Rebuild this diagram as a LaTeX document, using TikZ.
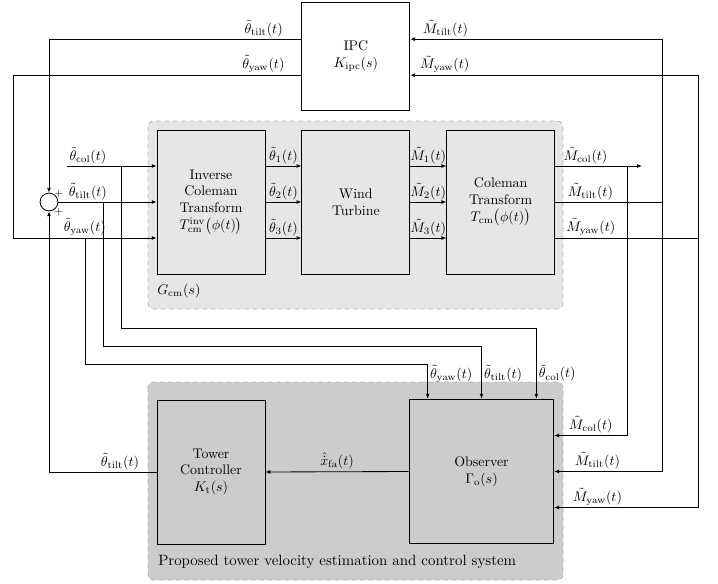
\documentclass[tikz,border=0pt]{standalone}
\usepackage{amsmath,amssymb}
\usepackage{xcolor}
\definecolor{Panel}{HTML}{E6E6E6}
\definecolor{PanelDark}{HTML}{CCCCCC}
\definecolor{Edge}{HTML}{B3B3B3}
\usepackage{tikz}
\usetikzlibrary{arrows.meta,positioning,calc}
\tikzset{
  block/.style={draw,line width=0.6pt,minimum width=2.72cm,minimum height=3.63cm,
    align=center,inner sep=1mm},
  group/.style={draw=Edge,dashed,rounded corners=1.5mm,line width=0.6pt},
  sumj/.style={circle,draw,line width=0.6pt,minimum size=4.5mm,inner sep=0pt},
  flow/.style={-{Latex[length=3.5pt,width=2.8pt]},line width=0.6pt},
  wire/.style={line width=0.6pt},
  sig/.style={inner sep=1.5pt},
  sgn/.style={inner sep=0pt,font=\scriptsize}
}

\begin{document}
\begin{tikzpicture}[x=0.0252cm,y=-0.0252cm,node distance=9.1mm]
  \useasboundingbox (0,0) rectangle (718,583);
  \draw[group,fill=Panel] (148,121) rectangle (563,309);
  \draw[group,fill=PanelDark] (148,382) rectangle (563,580);
  \node[anchor=south west,inner sep=0pt] (gcm) at (157,298) {$G_{\mathrm{cm}}(s)$};
  \node[anchor=base west,inner sep=0pt,font=\fontsize{10.7}{13}\selectfont] (ptv) at (158,565) {Proposed tower velocity estimation and control system};

  \node[block] (inv) at (211,202) {Inverse\\Coleman\\Transform\\$T_{\mathrm{cm}}^{\mathrm{inv}}\big(\phi(t)\big)$};
  \node[block, right=of inv] (wt) {Wind\\Turbine};
  \node[block, right=of wt] (cm) {Coleman\\Transform\\$T_{\mathrm{cm}}\big(\phi(t)\big)$};
  \node[block, minimum height=2.72cm, above=4.8mm of wt] (ipc) {IPC\\$K_{\mathrm{ipc}}(s)$};
  \node[block] (twr) at (211,472) {Tower\\Controller\\$K_{\mathrm{t}}(s)$};
  \node[block, minimum width=3.65cm, minimum height=3.65cm] (obs) at (481.5,471.5) {Observer\\$\Gamma_{\mathrm{o}}(s)$};
  \node[sumj] (sum) at (49,202) {};
  \node[sgn] (plusa) at (59,194) {$+$};
  \node[sgn] (plusb) at (59,212) {$+$};

  \coordinate (colin) at (67,166);
  \coordinate (yawturn) at (13,238);
  \coordinate (tcol) at (121,166);
  \coordinate (ttilt) at (103,202);
  \coordinate (tyaw) at (85,238);
  \coordinate (mcolend) at (642,166);
  \coordinate (jcol) at (627,166);
  \coordinate (jtilt) at (662,202);
  \coordinate (jyaw) at (698,238);

  \draw[flow] ($(ipc.west)+(0,-17)$) -| (sum.north) node[sig,above,pos=0.075]{$\tilde{\theta}_{\mathrm{tilt}}(t)$};
  \draw[flow] ($(ipc.west)+(0,19)$) -| (yawturn) node[sig,above,pos=0.066]{$\tilde{\theta}_{\mathrm{yaw}}(t)$}
    -- (inv.west |- yawturn) node[sig,above,midway]{$\tilde{\theta}_{\mathrm{yaw}}(t)$};
  \draw[flow] (colin) -- (inv.west |- colin) node[sig,anchor=south west,pos=0]{$\tilde{\theta}_{\mathrm{col}}(t)$};
  \draw[flow] (sum) -- (inv.west |- sum) node[sig,above,pos=0.3]{$\tilde{\theta}_{\mathrm{tilt}}(t)$};

  \foreach \k/\dy in {1/-36,2/0,3/36}{
    \draw[flow] ($(inv.east)+(0,\dy)$) -- ($(wt.west)+(0,\dy)$) node[sig,above,midway]{$\tilde{\theta}_{\k}(t)$};
    \draw[flow] ($(wt.east)+(0,\dy)$) -- ($(cm.west)+(0,\dy)$) node[sig,above,midway]{$\tilde{M}_{\k}(t)$};
  }

  \draw[flow] ($(cm.east)+(0,-36)$) -- (mcolend) node[sig,above,pos=0.35]{$\tilde{M}_{\mathrm{col}}(t)$};
  \draw[wire] (cm.east) -- (jtilt) node[sig,above,pos=0.33]{$\tilde{M}_{\mathrm{tilt}}(t)$};
  \draw[wire] ($(cm.east)+(0,36)$) -- (jyaw) node[sig,above,pos=0.25]{$\tilde{M}_{\mathrm{yaw}}(t)$};

  \draw[flow] (jcol) |- ($(obs.east)+(0,-36)$) node[sig,above,pos=0.75]{$\tilde{M}_{\mathrm{col}}(t)$};
  \draw[flow] (jtilt) |- ($(ipc.east)+(0,-17)$) node[sig,above,pos=0.93]{$\tilde{M}_{\mathrm{tilt}}(t)$};
  \draw[flow] (jtilt) |- (obs.east) node[sig,above,pos=0.8]{$\tilde{M}_{\mathrm{tilt}}(t)$};
  \draw[flow] (jyaw) |- ($(ipc.east)+(0,19)$) node[sig,above,pos=0.94]{$\tilde{M}_{\mathrm{yaw}}(t)$};
  \draw[flow] (jyaw) |- ($(obs.east)+(0,36)$) node[sig,above,pos=0.85]{$\tilde{M}_{\mathrm{yaw}}(t)$};

  \draw[flow] (tcol) -- ++(0,162) -| ($(obs.north east)+(-18,0)$) node[sig,right,pos=0.82]{$\tilde{\theta}_{\mathrm{col}}(t)$};
  \draw[flow] (ttilt) -- ++(0,144) -| (obs.north) node[sig,right,pos=0.76]{$\tilde{\theta}_{\mathrm{tilt}}(t)$};
  \draw[flow] (tyaw) -- ++(0,126) -| ($(obs.north west)+(19,0)$) node[sig,right,pos=0.64]{$\tilde{\theta}_{\mathrm{yaw}}(t)$};

  \draw[flow] (obs.west) -- (twr.east) node[sig,above,midway]{$\hat{\dot{x}}_{\mathrm{fa}}(t)$};
  \draw[flow] (twr.west) -| (sum.south) node[sig,above,pos=0.17]{$\tilde{\theta}_{\mathrm{tilt}}(t)$};
\end{tikzpicture}
\end{document}
